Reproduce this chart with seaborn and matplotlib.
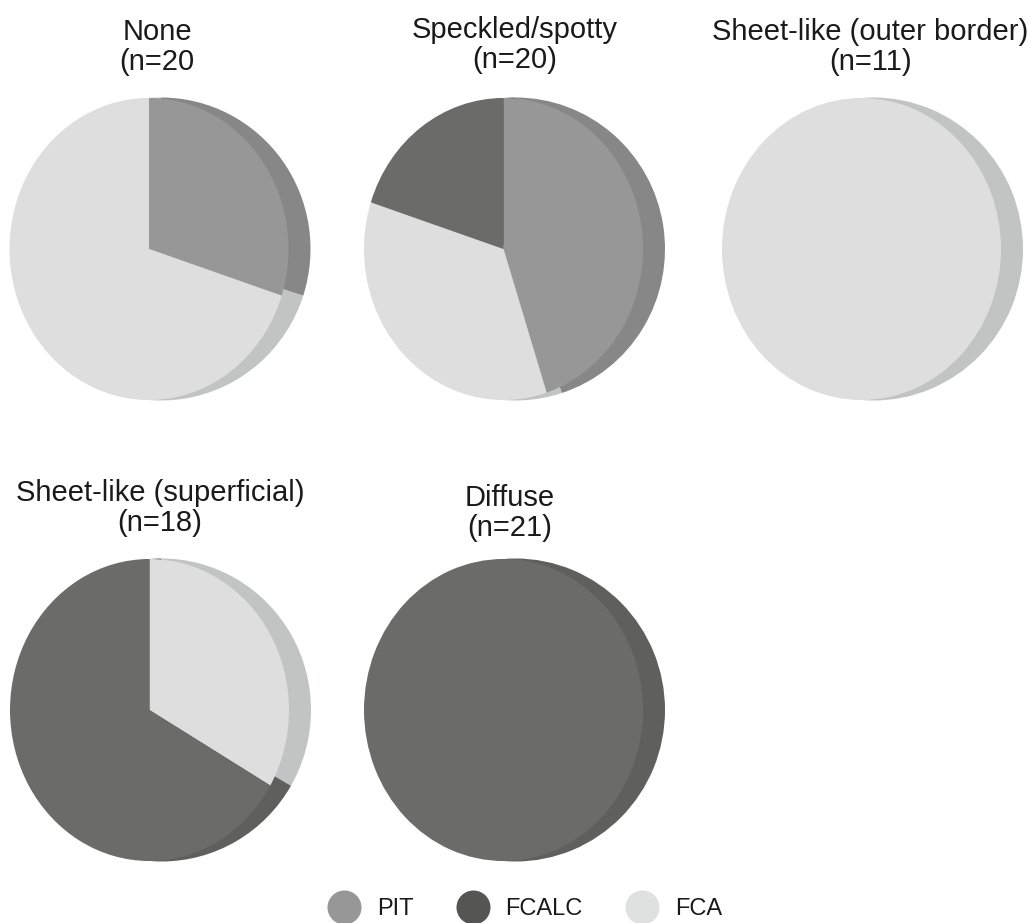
"""
Pie panels with a fake 3D rim, one panel per calcification pattern
"""

import matplotlib
matplotlib.use("Agg")
import matplotlib.pyplot as plt
from matplotlib.lines import Line2D
import seaborn as sns


# ── Data ──────────────────────────────────────────────────────────────────────
GROUPS = ["PIT", "FCALC", "FCA"]
TITLES = [
    "None\n(n=20",
    "Speckled/spotty\n(n=20)",
    "Sheet-like (outer border)\n(n=11)",
    "Sheet-like (superficial)\n(n=18)",
    "Diffuse\n(n=21)",
]
PIT_COUNTS = [6, 9, 0, 0, 0]
FCALC_COUNTS = [0, 4, 0, 12, 21]
FCA_COUNTS = [14, 7, 11, 6, 0]

# ── Style ─────────────────────────────────────────────────────────────────────
# slices run clockwise PIT, FCA, FCALC
FRONT_COLORS = ["#979797", "#dddedd", "#6b6b6a"]
RIM_COLORS = ["#878787", "#c2c4c3", "#5f5f5d"]
LEGEND_COLORS = ["#979797", "#555553", "#dfe1e0"]
TEXT_COLOR = "#1a1a1a"

FIG_W, FIG_H = 1031, 923
DPI = 100

# left edge and vertical centre of each panel, in pixels
PANEL_X = [9.5, 364, 722, 10, 364]
PANEL_Y = [249, 249, 249, 710, 710]
FRONT_RX, FRONT_RY = 139.5, 151
RIM_X_SHIFT, RIM_RX, RIM_RY = 12, 149.5, 151.5
TITLE_X = [157, 514.5, 870.5, 160, 509.5]
TITLE_Y = [47, 45, 47, 508, 513]

sns.set_theme(style="white")
plt.rcParams["font.family"] = ["Liberation Sans", "DejaVu Sans"]


def pixel_axes(fig, cx, cy, rx, ry):
    rect = [(cx - rx) / FIG_W, 1 - (cy + ry) / FIG_H, 2 * rx / FIG_W, 2 * ry / FIG_H]
    return fig.add_axes(rect)


def draw_disc(ax, counts, colors):
    ax.pie(counts, colors=colors, startangle=90, counterclock=False,
           radius=1, wedgeprops={"linewidth": 0})
    ax.set_aspect("auto")
    ax.set_xlim(-1, 1)
    ax.set_ylim(-1, 1)
    sns.despine(ax=ax, left=True, bottom=True)


fig = plt.figure(figsize=(FIG_W / DPI, FIG_H / DPI), dpi=DPI)

for i, title in enumerate(TITLES):
    counts = [PIT_COUNTS[i], FCA_COUNTS[i], FCALC_COUNTS[i]]
    cx = PANEL_X[i] + FRONT_RX

    # rim first, front disc on top
    rim_ax = pixel_axes(fig, cx + RIM_X_SHIFT, PANEL_Y[i], RIM_RX, RIM_RY)
    draw_disc(rim_ax, counts, RIM_COLORS)
    front_ax = pixel_axes(fig, cx, PANEL_Y[i], FRONT_RX, FRONT_RY)
    draw_disc(front_ax, counts, FRONT_COLORS)

    fig.text(TITLE_X[i] / FIG_W, 1 - TITLE_Y[i] / FIG_H, title, ha="center", va="center",
             fontsize=21, linespacing=1.05, color=TEXT_COLOR)

handles = [
    Line2D([], [], linestyle="none", marker="o", markersize=24.5,
           markerfacecolor=color, markeredgewidth=0, label=group)
    for group, color in zip(GROUPS, LEGEND_COLORS)
]
fig.legend(handles=handles, ncol=3, frameon=False, fontsize=17, labelcolor=TEXT_COLOR,
           loc="center", bbox_to_anchor=(527 / FIG_W, 1 - 909 / FIG_H),
           handlelength=1.0, handletextpad=0.89, columnspacing=2.01)

fig.savefig("out.png", dpi=DPI, facecolor="white")
